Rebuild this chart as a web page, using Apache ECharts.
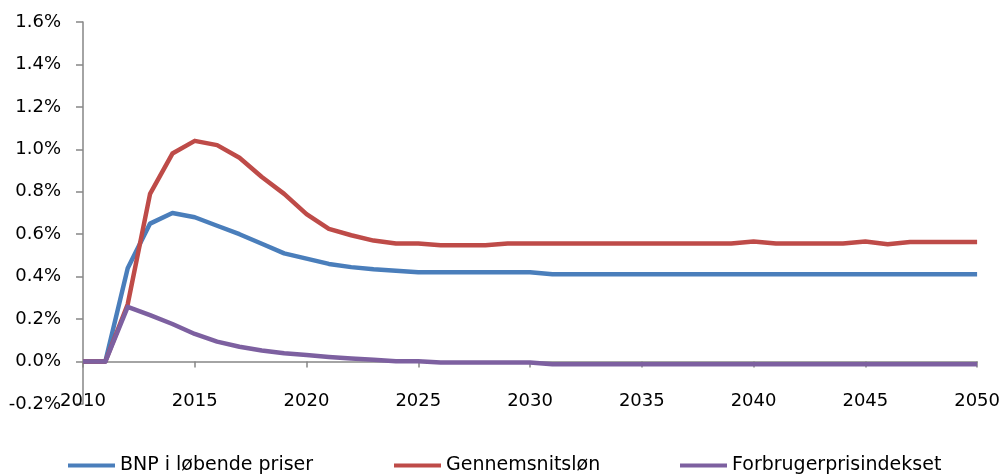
<!DOCTYPE html>
<html>
<head>
<meta charset="utf-8">
<script src="https://cdn.jsdelivr.net/npm/echarts@6/dist/echarts.min.js"></script>
<style>
  html, body { margin: 0; padding: 0; background: #fff; }
  #chart { width: 1003px; height: 474px; }
</style>
</head>
<body>
<div id="chart"></div>
<script>
var years = [2010, 2011, 2012, 2013, 2014, 2015, 2016, 2017, 2018, 2019,
  2020, 2021, 2022, 2023, 2024, 2025, 2026, 2027, 2028, 2029,
  2030, 2031, 2032, 2033, 2034, 2035, 2036, 2037, 2038, 2039,
  2040, 2041, 2042, 2043, 2044, 2045, 2046, 2047, 2048, 2049, 2050];

var bnp = [0, 0, 0.44, 0.65, 0.70, 0.68, 0.64, 0.60, 0.555, 0.51,
  0.485, 0.46, 0.445, 0.435, 0.428, 0.421, 0.421, 0.421, 0.421, 0.421,
  0.421, 0.411, 0.411, 0.411, 0.411, 0.411, 0.411, 0.411, 0.411, 0.411,
  0.411, 0.411, 0.411, 0.411, 0.411, 0.411, 0.411, 0.411, 0.411, 0.411, 0.411];

var loen = [0, 0, 0.27, 0.79, 0.98, 1.04, 1.02, 0.96, 0.87, 0.79,
  0.695, 0.625, 0.595, 0.57, 0.556, 0.556, 0.548, 0.548, 0.548, 0.556,
  0.556, 0.556, 0.556, 0.556, 0.556, 0.556, 0.556, 0.556, 0.556, 0.556,
  0.566, 0.556, 0.556, 0.556, 0.556, 0.566, 0.553, 0.563, 0.563, 0.563, 0.563];

var fpi = [0, 0, 0.258, 0.219, 0.177, 0.13, 0.094, 0.07, 0.052, 0.039,
  0.031, 0.022, 0.014, 0.008, 0.001, 0.001, -0.004, -0.004, -0.004, -0.004,
  -0.004, -0.013, -0.013, -0.013, -0.013, -0.013, -0.013, -0.013, -0.013, -0.013,
  -0.013, -0.013, -0.013, -0.013, -0.013, -0.013, -0.013, -0.013, -0.013, -0.013, -0.013];

var names = ['BNP i løbende priser', 'Gennemsnitsløn', 'Forbrugerprisindekset'];

(function() {
    var myChart = echarts.init(document.getElementById('chart'));
    var font = 'DejaVu Sans';

    function pairs(vals) {
        return years.map(function(y, i) { return [y, vals[i]]; });
    }

    function legendAt(name, left) {
        return {
            data: [name],
            left: left,
            top: 451,
            icon: 'rect',
            itemWidth: 47,
            itemHeight: 4,
            textStyle: { fontFamily: font, fontSize: 19, color: '#000' }
        };
    }

    function line(name, vals, color) {
        return {
            name: name,
            type: 'line',
            data: pairs(vals),
            showSymbol: false,
            symbol: 'none',
            lineStyle: { width: 4.5, color: color, join: 'round' },
            itemStyle: { color: color }
        };
    }

    option = {
        animation: false,
        grid: { left: 83, right: 25, top: 22, bottom: 70 },
        legend: [
            legendAt(names[0], 63),
            legendAt(names[1], 389),
            legendAt(names[2], 675)
        ],
        xAxis: {
            type: 'value',
            min: 2010,
            max: 2050,
            interval: 5,
            axisLine: { onZero: true, lineStyle: { color: '#868686', width: 1.5 } },
            axisTick: { show: true, length: 6, lineStyle: { color: '#868686', width: 1.5 } },
            splitLine: { show: false },
            axisLabel: {
                margin: -12,
                fontFamily: font,
                fontSize: 18,
                color: '#000',
                formatter: function(v) { return String(v); }
            }
        },
        yAxis: {
            type: 'value',
            min: -0.2,
            max: 1.6,
            interval: 0.2,
            axisLine: { show: true, lineStyle: { color: '#868686', width: 1.5 } },
            axisTick: { show: true, length: 7, lineStyle: { color: '#868686', width: 1.5 } },
            splitLine: { show: false },
            axisLabel: {
                margin: 22,
                fontFamily: font,
                fontSize: 18,
                color: '#000',
                formatter: function(v) { return v.toFixed(1) + '%'; }
            }
        },
        series: [
            line(names[0], bnp, '#4A7EBB'),
            line(names[1], loen, '#BE4B48'),
            line(names[2], fpi, '#7D60A0')
        ]
    };

    myChart.setOption(option);
    window.addEventListener('resize', function() {
        myChart.resize();
    });
})();
</script>
</body>
</html>
